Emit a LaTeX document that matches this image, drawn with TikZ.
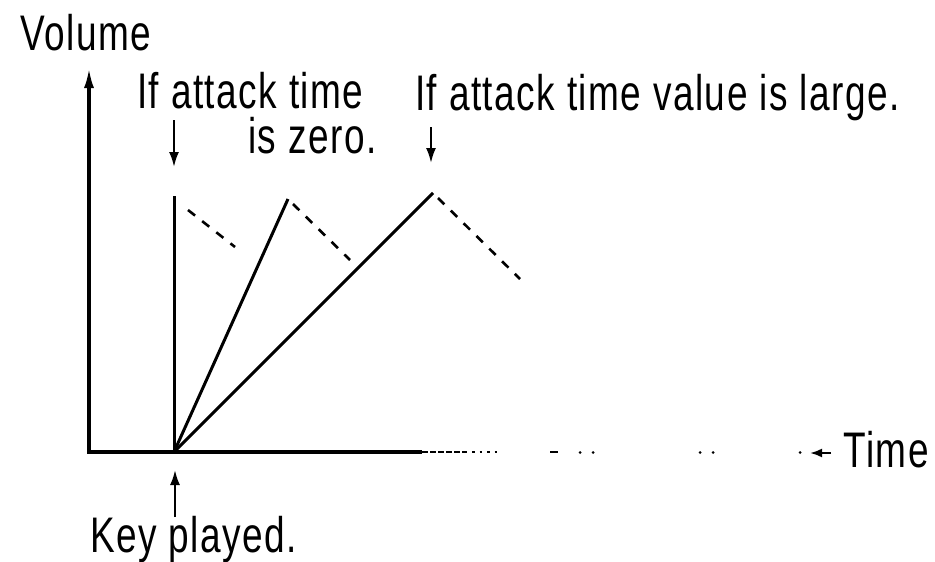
\documentclass[tikz,border=0pt]{standalone}
\usepackage{fontspec}
\newfontfamily\lab[FakeStretch=0.74,LetterSpace=3]{Liberation Sans}
\usetikzlibrary{arrows.meta}
\begin{document}
\begin{tikzpicture}[x=1pt,y=-1pt,
  lbl/.style={font=\lab\fontsize{50}{60}\selectfont, inner sep=0pt, anchor=base west},
  ax/.style={line width=3.2pt},
  env/.style={line width=3pt},
  dec/.style={line width=2.6pt, dash pattern=on 9pt off 9pt},
  ptr/.style={line width=2.2pt, -{Latex[length=15pt,width=10pt]}},
  axtip/.style={-{Latex[length=20pt,width=10pt]}}]
\useasboundingbox (0,0) rectangle (935,562);
% axes
\coordinate (O) at (89,452);
\coordinate (Ytop) at (89,68);
\coordinate (Xend) at (422,452);
\coordinate (K) at (174,452);
\draw[ax, axtip] (Xend) -- (O) -- (Ytop);
% broken continuation of time axis
\draw[line width=2.6pt, dash pattern=on 6pt off 2pt] (Xend) -- (467,452);
\draw[line width=2.6pt, dash pattern=on 2.5pt off 5pt] (472,452) -- (499,452);
\draw[line width=2.6pt] (550,452) -- (558,452);
\foreach \xx in {580,593,700,713,800} \fill (\xx,452.5) circle (1.5pt);
% peaks
\coordinate (P0) at (174,196);
\coordinate (P1) at (288,199);
\coordinate (P2) at (433,193);
\draw[env] (K) -- (P0);
\draw[env] (K) -- (P1);
\draw[env] (K) -- (P2);
% decays
\coordinate (D0a) at (188,210);
\coordinate (D0) at (235,247);
\coordinate (D1a) at (293,204);
\coordinate (D1) at (350,260);
\coordinate (D2a) at (438,198);
\coordinate (D2) at (520,279);
\draw[dec] (D0a) -- (D0);
\draw[dec] (D1a) -- (D1);
\draw[dec] (D2a) -- (D2);
% labels
\node[lbl] (vol) at (20,50) {Volume};
\node[lbl] (a0) at (137,108) {If attack time};
\node[lbl] (a0b) at (248,153) {is zero.};
\node[lbl] (a2) at (415,110) {If attack time value is large.};
\node[lbl] (key) at (90,552) {Key played.};
\node[lbl, anchor=base east] (tm) at (929,467) {Time};
% pointers
\coordinate (q0s) at (174,120);
\coordinate (q0e) at (174,167);
\coordinate (q2s) at (431,127);
\coordinate (q2e) at (431,163);
\coordinate (ks) at (175,517);
\coordinate (ke) at (175,470);
\coordinate (ts) at (831,453);
\coordinate (te) at (810,453);
\draw[ptr] (q0s) -- (q0e);
\draw[ptr] (q2s) -- (q2e);
\draw[ptr] (ks) -- (ke);
\draw[ptr, -{Latex[length=12pt,width=9pt]}] (ts) -- (te);
\end{tikzpicture}
\end{document}
